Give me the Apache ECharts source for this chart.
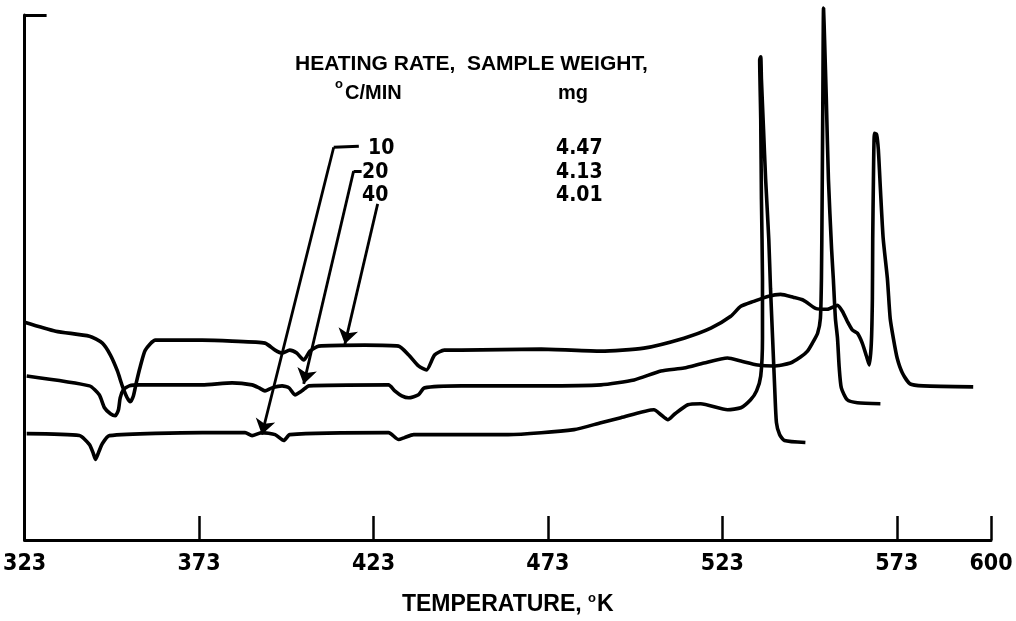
<!DOCTYPE html>
<html><head><meta charset="utf-8">
<script src="https://cdn.jsdelivr.net/npm/echarts@6/dist/echarts.min.js"></script>
<style>html,body{margin:0;padding:0;background:#fff}#c{width:1016px;height:621px}</style>
</head><body><div id="c"></div>
<script>
// X axis (temperature, K)
const xTickLabels = [323, 373, 423, 473, 523, 573, 600];
const xTickMarks = [373, 423, 473, 523, 573, 600];

// Heating rate 10 C/min, sample 4.47 mg (bottom trace)
const t10 = [323.6,338.7,341.6,342.7,343.3,344.2,345.3,347.3,373.9,386.2,388.2,391.0,394.8,397.3,399.0,427.3,430.2,431.9,434.5,448.2,461.6,480.5,488.2,493.9,503.4,505.4,507.4,509.1,513.1,516.8,524.5,528.3,531.1,532.8,534.0,534.5,534.5,534.2,534.0,533.7,534.0,534.2,534.8,535.4,536.3,536.8,537.4,538.0,538.5,539.4,540.8,546.8];
const v10 = [21.4,21.0,19.2,17.4,16.2,17.6,19.4,21.0,21.6,21.6,21.0,21.6,21.2,20.0,21.2,21.6,20.2,20.6,21.2,21.2,21.2,22.2,23.6,24.6,26.2,25.2,24.2,25.2,27.2,27.4,26.2,26.6,28.2,30.0,33.0,40.6,52.6,68.6,84.6,96.6,97.2,92.6,82.6,72.6,60.6,50.6,40.6,30.6,23.6,21.2,20.0,19.6];

// Heating rate 20 C/min, sample 4.13 mg (middle trace)
const t20 = [323.6,341.6,344.4,345.9,347.6,349.0,349.9,350.4,351.3,353.0,355.9,373.9,382.5,388.2,390.2,391.9,393.9,396.8,398.8,400.5,402.5,404.5,427.3,429.1,431.1,433.1,435.9,437.6,448.2,471.1,488.2,497.7,505.4,512.0,517.7,524.5,528.3,533.1,537.7,542.5,545.4,547.4,548.8,550.3,551.1,551.4,551.6,551.8,552.0,552.3,552.8,553.4,554.3,554.8,555.4,556.0,556.5,557.1,558.8,561.7,568.3];
const v20 = [33.0,31.0,29.2,26.6,25.4,25.0,26.2,28.6,30.2,31.0,31.2,31.2,31.6,31.2,30.6,30.0,30.6,31.0,30.6,29.2,30.0,31.0,31.2,30.0,29.0,28.6,29.2,30.6,31.0,31.0,31.2,32.2,34.0,34.6,35.6,36.6,36.0,35.2,35.0,35.6,36.8,38.0,39.6,41.6,44.6,52.6,68.6,88.6,107.0,100.6,88.6,72.6,58.6,52.6,44.6,40.6,34.6,30.6,28.2,27.6,27.4];

// Heating rate 40 C/min, sample 4.01 mg (top trace)
const t40 = [323.0,331.9,341.6,345.3,347.6,349.6,351.0,352.4,353.3,354.2,355.0,356.2,357.6,360.5,373.9,382.5,391.9,394.8,396.8,399.0,401.0,403.0,404.8,407.3,420.5,430.2,433.1,435.9,438.2,440.5,443.3,448.2,471.1,488.2,500.5,512.0,519.7,525.4,528.3,532.0,536.0,539.7,543.4,546.3,549.7,553.1,556.0,557.4,558.8,560.3,561.7,563.1,564.3,565.1,565.7,566.0,566.1,566.3,566.6,567.2,567.7,568.3,569.1,570.3,571.1,572.0,573.1,574.6,576.8,580.6,594.9];
const v40 = [43.8,42.0,41.0,39.6,37.2,34.0,31.0,28.6,27.8,29.0,31.6,35.0,38.2,40.2,40.2,40.0,39.6,38.2,37.6,38.2,37.6,36.2,38.0,39.0,39.2,39.0,37.2,35.0,34.2,37.2,38.2,38.2,38.4,38.0,38.6,40.6,42.6,45.0,47.0,48.0,49.0,49.4,48.8,48.2,46.6,46.4,47.2,46.0,44.0,42.2,41.6,39.6,37.0,35.2,39.6,48.6,60.6,72.6,81.8,81.6,78.6,70.6,60.6,52.6,44.6,40.6,36.6,33.6,31.4,31.0,30.8];

// Legend rows
const rates = ['10', '20', '40'];
const weights = ['4.47', '4.13', '4.01'];

// Leader lines (data coordinates): plain segments and arrow segments
const leaderPlain = [
  [[418.8, 79.2], [411.6, 79.0]],
  [[419.6, 74.2], [417.3, 74.2]]
];
const leaderArrow = [
  [[411.6, 79.0], [391.0, 21.2]],
  [[417.3, 74.2], [403.0, 31.4]],
  [[424.2, 67.6], [414.8, 39.4]]
];

const chart = echarts.init(document.getElementById('c'), null, {renderer: 'canvas'});
const pair = (t, v) => t.map((x, i) => [x, v[i]]);
const lineStyle = {color: '#000', width: 3.6};
const mk = (name, t, v) => ({
  name, type: 'line', data: pair(t, v), showSymbol: false, symbol: 'none',
  smooth: 0.2, clip: false, lineStyle, animation: false, z: 3
});
const LS = '"Liberation Sans", Arial, sans-serif';
const bold = 'bold 21px ' + LS;
const numFont = 'bold 21px "DejaVu Sans Condensed", ' + LS;
const txt = (text, x, y, font) => ({type: 'text', left: x, top: y, silent: true,
  style: {text, font, fill: '#000', verticalAlign: 'top'}});

const graphics = [
  txt('HEATING RATE,  SAMPLE WEIGHT,', 295, 54, bold),
  txt('o', 335, 78, 'bold 13px ' + LS),
  txt('C/MIN', 345, 83, 'bold 20px ' + LS),
  txt('mg', 558, 83, 'bold 20px ' + LS)
];
const rowTop = [138, 162, 185];
const rateLeft = [368, 362, 362];
rates.forEach((r, i) => graphics.push(txt(r, rateLeft[i], rowTop[i], numFont)));
weights.forEach((w, i) => graphics.push(txt(w, 556, rowTop[i], numFont)));

chart.setOption({
  animation: false,
  backgroundColor: '#fff',
  grid: {left: 22, right: 25, top: 15, bottom: 78},
  xAxis: {
    type: 'value', min: 323, max: 600,
    name: 'TEMPERATURE, {sup|o}K', nameLocation: 'middle', nameGap: 52,
    nameTextStyle: {color: '#000', fontSize: 23, fontWeight: 'bold', fontFamily: LS,
      rich: {sup: {fontSize: 13, fontWeight: 'bold', fontFamily: LS, verticalAlign: 'top', padding: [0, 1, 12, 0]}}},
    axisLine: {show: true, onZero: false, lineStyle: {color: '#000', width: 3}},
    axisTick: {show: true, inside: true, length: 24, customValues: xTickMarks, lineStyle: {color: '#000', width: 2.5}},
    axisLabel: {show: true, customValues: xTickLabels, margin: 13, color: '#000', fontSize: 23, fontWeight: 'bold',
      fontFamily: '"DejaVu Sans Condensed", ' + LS},
    splitLine: {show: false}
  },
  yAxis: {
    type: 'value', min: 0, max: 105.6,
    axisLine: {show: true, onZero: false, lineStyle: {color: '#000', width: 3}},
    axisTick: {show: true, inside: true, length: 22, customValues: [105.6], lineStyle: {color: '#000', width: 3}},
    axisLabel: {show: false},
    splitLine: {show: false}
  },
  graphic: graphics,
  series: [
    mk('10 °C/min, 4.47 mg', t10, v10),
    mk('20 °C/min, 4.13 mg', t20, v20),
    mk('40 °C/min, 4.01 mg', t40, v40),
    {type: 'lines', coordinateSystem: 'cartesian2d', silent: true, animation: false,
     symbol: 'none', lineStyle: {color: '#000', width: 2.8, opacity: 1},
     data: leaderPlain.map(c => ({coords: c}))},
    {type: 'lines', coordinateSystem: 'cartesian2d', silent: true, animation: false,
     symbol: ['none', 'arrow'], symbolSize: [6, 15], lineStyle: {color: '#000', width: 2.8, opacity: 1},
     data: leaderArrow.map(c => ({coords: c}))}
  ]
});
</script></body></html>
